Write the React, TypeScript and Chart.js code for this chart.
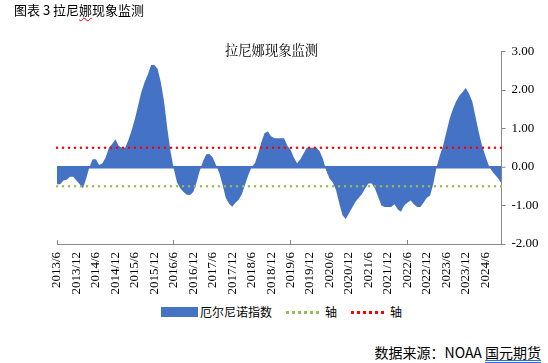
import React, { useEffect, useRef } from 'react';
import { Chart, registerables } from 'chart.js';

Chart.register(...registerables);

// ---- Data (monthly El Niño index, 2013/6 – 2024/11) ----
const startYear = 2013;
const startMonth = 6;

const nino2013 = [-0.45, -0.45, -0.35, -0.33, -0.25, -0.25, -0.35];
const nino2014 = [-0.45, -0.55, -0.3, 0.0, 0.2, 0.2, 0.05, 0.1, 0.25, 0.5, 0.6, 0.72];
const nino2015 = [0.55, 0.5, 0.5, 0.7, 0.95, 1.25, 1.6, 1.95, 2.2, 2.4, 2.65, 2.65];
const nino2016 = [2.55, 2.2, 1.7, 1.0, 0.4, -0.05, -0.4, -0.55, -0.65, -0.72, -0.73, -0.65];
const nino2017 = [-0.4, -0.1, 0.15, 0.33, 0.34, 0.25, 0.05, -0.15, -0.45, -0.8, -0.95, -1.03];
const nino2018 = [-0.93, -0.85, -0.7, -0.45, -0.2, 0.0, 0.1, 0.35, 0.65, 0.88, 0.92, 0.8];
const nino2019 = [0.75, 0.75, 0.75, 0.75, 0.55, 0.45, 0.25, 0.1, 0.2, 0.35, 0.5, 0.5];
const nino2020 = [0.5, 0.5, 0.4, 0.2, -0.1, -0.3, -0.4, -0.6, -0.95, -1.25, -1.35, -1.2];
const nino2021 = [-1.05, -0.9, -0.8, -0.7, -0.55, -0.43, -0.43, -0.56, -0.78, -1.0, -1.04, -1.04];
const nino2022 = [-1.04, -0.97, -1.1, -1.16, -1.0, -0.93, -0.87, -0.97, -1.04, -1.04, -0.92, -0.8];
const nino2023 = [-0.74, -0.43, 0.0, 0.3, 0.55, 0.9, 1.25, 1.5, 1.7, 1.85, 1.95, 2.05];
const nino2024 = [1.9, 1.7, 1.3, 0.9, 0.55, 0.3, 0.05, -0.1, -0.2, -0.3, -0.43];

const ninoIndex = [
  ...nino2013, ...nino2014, ...nino2015, ...nino2016, ...nino2017, ...nino2018,
  ...nino2019, ...nino2020, ...nino2021, ...nino2022, ...nino2023, ...nino2024,
];

const categories = ninoIndex.map((_, i) => {
  const t = startMonth - 1 + i;
  return `${startYear + Math.floor(t / 12)}/${(t % 12) + 1}`;
});

const elNinoLevel = 0.5;
const laNinaLevel = -0.5;
const yMin = -2;
const yMax = 3;
const yStep = 1;

const seriesNames = ['厄尔尼诺指数', '轴', '轴'];

const isLabeled = (i: number) => {
  const l = categories[i] || '';
  return l.endsWith('/6') || l.endsWith('/12');
};

const serif = '"Times New Roman", "Liberation Serif", serif';
const cjk = '"Noto Sans CJK SC", "Noto Sans", sans-serif';
const axisGray = '#898989';

export default function App() {
  const ref = useRef<HTMLCanvasElement | null>(null);

  useEffect(() => {
    if (!ref.current) return;
    const chart = new Chart(ref.current, {
      type: 'line',
      data: {
        labels: categories,
        datasets: [
          {
            label: seriesNames[0],
            data: ninoIndex,
            fill: 'origin',
            backgroundColor: '#4472C4',
            borderColor: '#4472C4',
            borderWidth: 0,
            pointRadius: 0,
            tension: 0,
            order: 2,
          },
          {
            label: seriesNames[1],
            data: categories.map(() => laNinaLevel),
            fill: false,
            borderColor: '#9BBB59',
            borderWidth: 2.5,
            borderDash: [0, 6],
            borderCapStyle: 'round',
            pointRadius: 0,
            order: 0,
          },
          {
            label: seriesNames[2],
            data: categories.map(() => elNinoLevel),
            fill: false,
            borderColor: '#FF0000',
            borderWidth: 2.5,
            borderDash: [0, 6],
            borderCapStyle: 'round',
            pointRadius: 0,
            order: 0,
          },
        ],
      },
      options: {
        responsive: false,
        animation: false,
        devicePixelRatio: 1,
        layout: { padding: { left: 57, top: 51.5, right: 0, bottom: 0 } },
        plugins: {
          legend: { display: false },
          tooltip: { enabled: false },
          title: { display: false },
        },
        scales: {
          x: {
            type: 'category',
            offset: false,
            grid: {
              drawOnChartArea: false,
              drawTicks: true,
              tickLength: -4,
              color: (c: any) => (isLabeled(c.index) ? axisGray : 'rgba(0,0,0,0)'),
              tickColor: (c: any) => (isLabeled(c.index) ? axisGray : 'rgba(0,0,0,0)'),
            },
            border: { display: true, color: axisGray, width: 1 },
            ticks: {
              autoSkip: false,
              maxRotation: 90,
              minRotation: 90,
              padding: 12,
              color: '#000',
              font: { family: serif, size: 13 },
              callback: (_v: any, i: number) => (isLabeled(i) ? categories[i] : null),
            },
            afterFit: (s: any) => {
              s.height = 56;
            },
          },
          y: {
            position: 'right',
            min: yMin,
            max: yMax,
            grid: {
              drawOnChartArea: true,
              drawTicks: true,
              tickLength: 4,
              color: (c: any) => (c.tick && c.tick.value === 0 ? '#4472C4' : 'rgba(0,0,0,0)'),
              lineWidth: (c: any) => (c.tick && c.tick.value === 0 ? 2.5 : 1),
              tickColor: axisGray,
              tickWidth: 1,
            },
            border: { display: true, color: axisGray, width: 1 },
            ticks: {
              stepSize: yStep,
              padding: 6,
              color: '#000',
              font: { family: serif, size: 13 },
              callback: (v: any) => Number(v).toFixed(2),
            },
            afterFit: (s: any) => {
              s.width = 46.5;
            },
          },
        },
      },
    });
    return () => chart.destroy();
  }, []);

  const abs = (o: React.CSSProperties): React.CSSProperties => ({ position: 'absolute', whiteSpace: 'nowrap', ...o });

  return (
    <div style={{ position: 'absolute', left: 0, top: 0, width: 548, height: 363, background: '#fff', overflow: 'hidden' }}>
      <canvas ref={ref} width={548} height={300} style={{ position: 'absolute', left: 0, top: 0, display: 'block' }} />
      <div style={abs({ left: 14, top: 1, fontFamily: cjk, fontSize: 13, lineHeight: '18px', color: '#000' })}>
        图表 3 拉尼
        <span style={{ textDecoration: 'underline wavy #e00000', textDecorationThickness: '1px', textUnderlineOffset: '2px' }}>娜</span>
        现象监测
      </div>
      <div style={abs({ left: 225, top: 41, fontFamily: '"Noto Serif CJK SC", ' + cjk, fontSize: 13.3, lineHeight: '18px', color: '#000' })}>
        拉尼娜现象监测
      </div>
      {/* legend */}
      <div style={abs({ left: 161, top: 307, width: 37, height: 10, background: '#4472C4' })} />
      <div style={abs({ left: 200, top: 304, fontFamily: cjk, fontSize: 12, lineHeight: '16px', color: '#000' })}>{seriesNames[0]}</div>
      <div style={abs({ left: 286, top: 310.5, width: 33, height: 0, borderTop: '3px dotted #9BBB59' })} />
      <div style={abs({ left: 325, top: 304, fontFamily: cjk, fontSize: 12, lineHeight: '16px', color: '#000' })}>{seriesNames[1]}</div>
      <div style={abs({ left: 351, top: 310.5, width: 33, height: 0, borderTop: '3px dotted #FF0000' })} />
      <div style={abs({ left: 390, top: 304, fontFamily: cjk, fontSize: 12, lineHeight: '16px', color: '#000' })}>{seriesNames[2]}</div>
      {/* source */}
      <div style={abs({ right: 7, top: 342, fontFamily: cjk, fontSize: 14, lineHeight: '20px', color: '#000' })}>
        数据来源：NOAA{' '}
        <span style={{ textDecoration: 'underline double #2f6fe0', textUnderlineOffset: '2px' }}>国元期货</span>
      </div>
    </div>
  );
}
